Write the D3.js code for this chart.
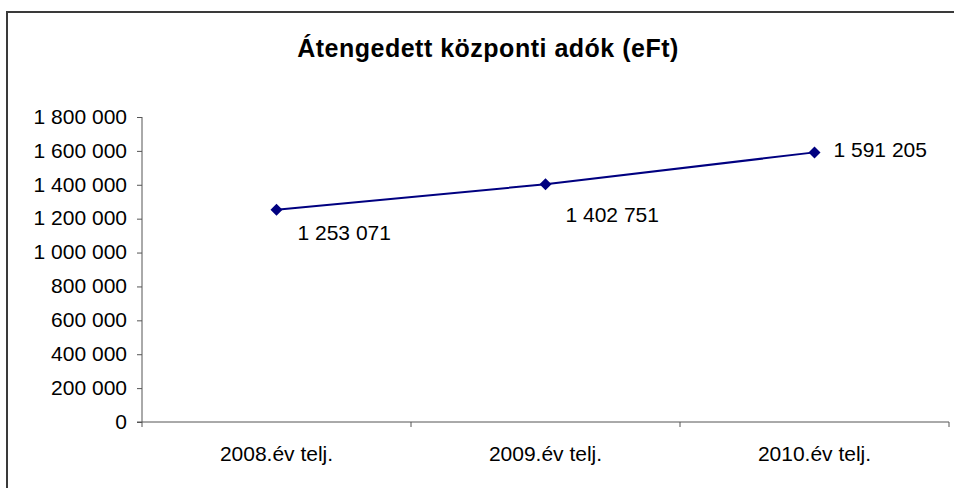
<!DOCTYPE html>
<html>
<head>
<meta charset="utf-8">
<script src="https://cdn.jsdelivr.net/npm/d3@7"></script>
<style>
  body { margin: 0; background: #fff; }
  text { font-family: Arial, "Liberation Sans", sans-serif; fill: #000; }
</style>
</head>
<body>
<div id="vis"></div>
<script>
const FRAME_WIDTH = 954;
const FRAME_HEIGHT = 488;

// data
const categories = ["2008.év telj.", "2009.év telj.", "2010.év telj."];
const values = [1253071, 1402751, 1591205];
const yTicks = [0, 200000, 400000, 600000, 800000, 1000000, 1200000, 1400000, 1600000, 1800000];
// label offsets (dx, dy) relative to the point
const labelOffsets = [[21, 30], [20, 38], [19, 5]];

// plot area edges
const Y_BOTTOM = 422;
const Y_TOP = 117;
const X_LEFT = 142;
const X_RIGHT = 949;

const fmt = d3.formatLocale({decimal: ",", thousands: " ", grouping: [3], currency: ["", ""]}).format(",d");

const svg = d3.select("#vis")
  .append("svg")
    .attr("width", FRAME_WIDTH)
    .attr("height", FRAME_HEIGHT);

// outer frame (runs off the right and bottom edges)
svg.append("rect")
  .attr("x", 7)
  .attr("y", 12)
  .attr("width", 1000)
  .attr("height", 600)
  .attr("fill", "none")
  .attr("stroke", "#3a3a3a")
  .attr("stroke-width", 2);

svg.append("text")
  .attr("x", 488)
  .attr("y", 57)
  .attr("text-anchor", "middle")
  .style("font-size", "25px")
  .style("font-weight", "bold")
  .style("letter-spacing", "0.5px")
  .text("Átengedett központi adók (eFt)");

const X_SCALE = d3.scaleBand()
  .domain(categories)
  .range([X_LEFT, X_RIGHT]);

const Y_SCALE = d3.scaleLinear()
  .domain([0, 1800000])
  .range([Y_BOTTOM, Y_TOP]);

// y axis
const yAxis = svg.append("g")
  .attr("transform", `translate(${X_LEFT},0)`)
  .call(d3.axisLeft(Y_SCALE).tickValues(yTicks).tickSize(5).tickPadding(10).tickFormat(fmt));
yAxis.selectAll("text").style("font-size", "21px").attr("dy", "0.3em");
yAxis.selectAll("line, path").attr("stroke", "#555");
yAxis.select(".domain").attr("d", `M0,${Y_BOTTOM}V${Y_TOP}`);

// x axis
const xAxis = svg.append("g")
  .attr("transform", `translate(0,${Y_BOTTOM})`)
  .call(d3.axisBottom(X_SCALE).tickSize(0).tickPadding(24));
xAxis.selectAll("text").style("font-size", "21px");
xAxis.select(".domain").attr("stroke", "#555").attr("d", `M${X_LEFT - 5},0H${X_RIGHT}`);
xAxis.selectAll(".sep")
  .data(categories.concat(["end"]))
  .enter()
  .append("line")
    .attr("class", "sep")
    .attr("x1", (d, i) => X_LEFT + i * X_SCALE.bandwidth())
    .attr("x2", (d, i) => X_LEFT + i * X_SCALE.bandwidth())
    .attr("y1", 0)
    .attr("y2", 5)
    .attr("stroke", "#555");

const cx = (d, i) => X_SCALE(categories[i]) + X_SCALE.bandwidth() / 2;

svg.append("path")
  .datum(values)
  .attr("fill", "none")
  .attr("stroke", "#000080")
  .attr("stroke-width", 2)
  .attr("d", d3.line().x(cx).y((d) => Y_SCALE(d)));

svg.selectAll(".pt")
  .data(values)
  .enter()
  .append("path")
    .attr("class", "pt")
    .attr("d", "M0,-6L6,0L0,6L-6,0Z")
    .attr("fill", "#000080")
    .attr("transform", (d, i) => `translate(${cx(d, i)},${Y_SCALE(d)})`);

svg.selectAll(".lbl")
  .data(values)
  .enter()
  .append("text")
    .attr("class", "lbl")
    .attr("x", (d, i) => cx(d, i) + labelOffsets[i][0])
    .attr("y", (d, i) => Y_SCALE(d) + labelOffsets[i][1])
    .style("font-size", "21px")
    .text((d) => fmt(d));
</script>
</body>
</html>
